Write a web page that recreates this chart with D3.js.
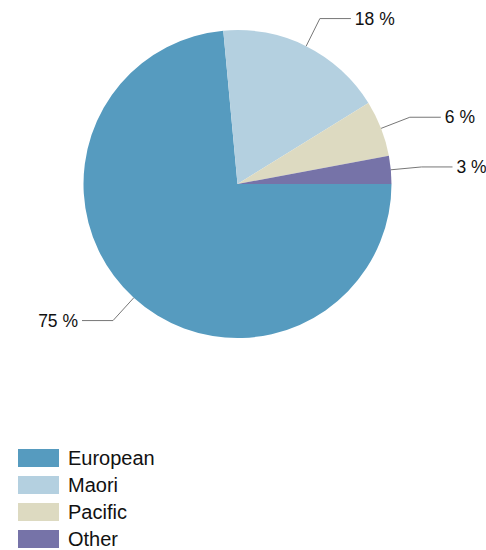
<!DOCTYPE html>
<html>
<head>
<meta charset="utf-8">
<script src="https://cdn.jsdelivr.net/npm/d3@7"></script>
<style>
  body { margin: 0; background: #fff; }
  svg { display: block; font-family: "Liberation Sans", Arial, sans-serif; }
</style>
</head>
<body>
<div id="chart"></div>
<script>
var categories = ["European", "Maori", "Pacific", "Other"];
var values = [75, 18, 6, 3];
var labels = ["75 %", "18 %", "6 %", "3 %"];
var colours = ["#569bbf", "#b4d0e0", "#dddac1", "#7673a8"];

var width = 486, height = 550;
var cx = 237.5, cy = 184, radius = 154;

var svg = d3.select("#chart").append("svg")
    .attr("width", width)
    .attr("height", height);

var pie = d3.pie()
    .sort(null)
    .startAngle(Math.PI / 2)
    .endAngle(Math.PI / 2 + 2 * Math.PI)
    .value(function(d) { return d; });

var arc = d3.arc().innerRadius(0).outerRadius(radius);

var color = d3.scaleOrdinal().domain(categories).range(colours);

var arcs = pie(values);

var g = svg.append("g").attr("transform", "translate(" + cx + "," + cy + ")");

g.selectAll("path.slice")
    .data(arcs)
    .enter().append("path")
    .attr("class", "slice")
    .attr("d", arc)
    .attr("fill", function(d, i) { return color(categories[i]); });

// leader lines + labels
function pt(a, r) { return [r * Math.sin(a), -r * Math.cos(a)]; }

arcs.forEach(function(d, i) {
    var mid = (d.startAngle + d.endAngle) / 2;
    var p0 = pt(mid, radius);
    var p1 = pt(mid, radius * 1.2);
    var right = Math.sin(mid) >= 0;
    var p2 = [p1[0] + (right ? 31 : -31), p1[1]];
    g.append("polyline")
        .attr("points", [p0, p1, p2].map(function(p) { return p.join(","); }).join(" "))
        .attr("fill", "none")
        .attr("stroke", "#777")
        .attr("stroke-width", 1);
    g.append("text")
        .attr("x", p2[0] + (right ? 4 : -4))
        .attr("y", p2[1])
        .attr("dy", "0.35em")
        .attr("text-anchor", right ? "start" : "end")
        .attr("font-size", "17.5px")
        .attr("fill", "#111")
        .text(labels[i]);
});

// legend
var legend = svg.append("g").attr("transform", "translate(18,449)");
var rows = legend.selectAll("g")
    .data(categories)
    .enter().append("g")
    .attr("transform", function(d, i) { return "translate(0," + (i * 27) + ")"; });

rows.append("rect")
    .attr("width", 41)
    .attr("height", 18)
    .attr("fill", function(d) { return color(d); });

rows.append("text")
    .attr("x", 50)
    .attr("y", 9)
    .attr("dy", "0.35em")
    .attr("font-size", "20px")
    .attr("fill", "#111")
    .text(function(d) { return d; });
</script>
</body>
</html>
